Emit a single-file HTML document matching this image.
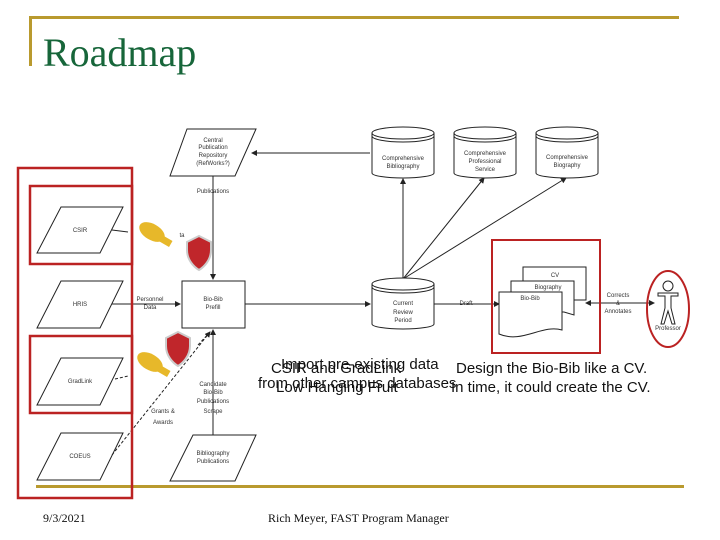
<!DOCTYPE html>
<html><head><meta charset="utf-8"><style>
html,body{margin:0;padding:0;background:#fff;}
svg{display:block}
</style></head><body>
<svg width="720" height="540" viewBox="0 0 720 540" xmlns="http://www.w3.org/2000/svg" font-family="Liberation Sans, sans-serif">
<defs>
<marker id="a" markerWidth="6" markerHeight="6" refX="5" refY="3" orient="auto"><path d="M0,0 L6,3 L0,6 z" fill="#222"/></marker>
</defs>
<!-- gold frame -->
<rect x="29" y="16" width="650" height="3" fill="#b99a2e"/>
<rect x="29" y="16" width="3" height="50" fill="#b99a2e"/>
<rect x="36" y="485" width="648" height="3" fill="#b99a2e"/>
<text x="43" y="66" font-family="Liberation Serif, serif" font-size="40" fill="#17663a">Roadmap</text>

<g stroke="#222" stroke-width="1" fill="#fff">
<!-- left parallelograms -->
<polygon points="61,207 123,207 100,253 37,253"/>
<polygon points="61,281 123,281 100,328 37,328"/>
<polygon points="61,358 123,358 100,405 37,405"/>
<polygon points="61,433 123,433 100,480 37,480"/>
<!-- central repo -->
<polygon points="187,129 256,129 235,176 170,176"/>
<!-- bibliography publications -->
<polygon points="193,435 256,435 235,481 170,481"/>
<!-- bio-bib prefill -->
<rect x="182" y="281" width="63" height="47"/>
</g>
<g stroke="#222" stroke-width="1" fill="none">
<line x1="213" y1="176" x2="213" y2="279" marker-end="url(#a)"/>
<line x1="213" y1="435" x2="213" y2="330" marker-end="url(#a)"/>
<line x1="112" y1="304" x2="180" y2="304" marker-end="url(#a)"/>
<line x1="245" y1="304" x2="370" y2="304" marker-end="url(#a)"/>
<line x1="433" y1="304" x2="499" y2="304" marker-end="url(#a)"/>
<line x1="433" y1="304" x2="437" y2="304"/>
<line x1="370" y1="153" x2="252" y2="153" marker-end="url(#a)"/>
<line x1="403" y1="279" x2="403" y2="179" marker-end="url(#a)"/>
<line x1="403" y1="279" x2="484" y2="178" marker-end="url(#a)"/>
<line x1="403" y1="279" x2="566" y2="178" marker-end="url(#a)"/>
<line x1="640" y1="303" x2="586" y2="303" marker-end="url(#a)"/>
<line x1="620" y1="303" x2="654" y2="303" marker-end="url(#a)"/>
<line x1="112" y1="230" x2="128" y2="232"/>
<line x1="115" y1="379" x2="128" y2="376" stroke-dasharray="3,2"/>
<line x1="112" y1="455" x2="210" y2="332" stroke-dasharray="3,2" marker-end="url(#a)"/>
<line x1="198" y1="345" x2="210" y2="332" stroke-dasharray="3,2"/>
</g>
<!-- cylinders -->
<g stroke="#222" stroke-width="1" fill="#fff">
<path d="M372,133 v40 a31,5 0 0 0 62,0 v-40"/><ellipse cx="403" cy="133" rx="31" ry="6"/><path d="M372,136 a31,6 0 0 0 62,0" fill="none"/>
<path d="M454,133 v40 a31,5 0 0 0 62,0 v-40"/><ellipse cx="485" cy="133" rx="31" ry="6"/><path d="M454,136 a31,6 0 0 0 62,0" fill="none"/>
<path d="M536,133 v40 a31,5 0 0 0 62,0 v-40"/><ellipse cx="567" cy="133" rx="31" ry="6"/><path d="M536,136 a31,6 0 0 0 62,0" fill="none"/>
<path d="M372,284 v40 a31,5 0 0 0 62,0 v-40"/><ellipse cx="403" cy="284" rx="31" ry="6"/><path d="M372,287 a31,6 0 0 0 62,0" fill="none"/>
<!-- documents -->
<path d="M523,267 h63 v33 h-63 z"/>
<path d="M511,281 h63 v34 l-10,-3 h-53 z"/>
<path d="M499,292 h63 v38 c-20,-6 -40,14 -63,4 z"/>
<!-- person -->
<circle cx="668" cy="286" r="5"/>
<path d="M658,293 h20 v3 h-7 v12 l4,16 h-3 l-4,-13 l-4,13 h-3 l4,-16 v-12 h-7 z" fill="#fff"/>
</g>
<!-- red highlights -->
<g stroke="#b22" stroke-width="2.5" fill="none">
<rect x="18" y="168" width="114" height="330"/>
<rect x="30" y="186" width="102" height="78"/>
<rect x="30" y="336" width="102" height="77"/>
<rect x="492" y="240" width="108" height="113" stroke-width="2"/>
<ellipse cx="668" cy="309" rx="21" ry="38" stroke-width="2"/>
</g>
<!-- keys and shields -->
<g>
<ellipse cx="152" cy="232" rx="14" ry="8" fill="#e7b82a" transform="rotate(30 152 232)"/>
<rect x="150" y="228" width="26" height="7" fill="#e7b82a" transform="rotate(30 150 228)"/>
<path d="M187,242 l12,-6 l12,6 v8 c0,10 -7,17 -12,20 c-5,-3 -12,-10 -12,-20 z" fill="#c0262b" stroke="#ccc" stroke-width="2"/>
<ellipse cx="150" cy="362" rx="14" ry="8" fill="#e7b82a" transform="rotate(30 150 362)"/>
<rect x="148" y="358" width="26" height="7" fill="#e7b82a" transform="rotate(30 148 358)"/>
<path d="M166,338 l12,-6 l12,6 v8 c0,10 -7,17 -12,20 c-5,-3 -12,-10 -12,-20 z" fill="#c0262b" stroke="#ccc" stroke-width="2"/>
</g>
<!-- small labels -->
<g font-size="6" fill="#333" text-anchor="middle">
<text x="80" y="232">CSIR</text>
<text x="80" y="306">HRIS</text>
<text x="80" y="383">GradLink</text>
<text x="80" y="458">COEUS</text>
<text x="213" y="142">Central</text><text x="213" y="149">Publication</text><text x="213" y="157">Repository</text><text x="213" y="165">(RefWorks?)</text>
<text x="213" y="193">Publications</text>
<text x="213" y="301">Bio-Bib</text><text x="213" y="309">Prefill</text>
<text x="150" y="301">Personnel</text><text x="150" y="309">Data</text>
<text x="213" y="386">Candidate</text><text x="213" y="394">Bio-Bib</text><text x="213" y="403">Publications</text><text x="213" y="413">Scrape</text>
<text x="163" y="413">Grants &amp;</text><text x="163" y="424">Awards</text>
<text x="213" y="455">Bibliography</text><text x="213" y="463">Publications</text>
<text x="403" y="160">Comprehensive</text><text x="403" y="168">Bibliography</text>
<text x="485" y="155">Comprehensive</text><text x="485" y="163">Professional</text><text x="485" y="171">Service</text>
<text x="567" y="159">Comprehensive</text><text x="567" y="167">Biography</text>
<text x="403" y="305">Current</text><text x="403" y="314">Review</text><text x="403" y="322">Period</text>
<text x="466" y="305">Draft</text>
<text x="555" y="277">CV</text>
<text x="548" y="289">Biography</text>
<text x="530" y="300">Bio-Bib</text>
<text x="618" y="297">Corrects</text><text x="618" y="305">&amp;</text><text x="618" y="313">Annotates</text>
<text x="668" y="330">Professor</text>
<text x="182" y="237">ta</text>
</g>
<!-- overlapping big labels -->
<g font-size="15" fill="#111">
<text x="281" y="369">Import pre-existing data</text>
<text x="271" y="373">CSIR and GradLink</text>
<text x="258" y="388">from other campus databases</text>
<text x="276" y="392">Low Hanging Fruit</text>
<text x="456" y="373">Design the Bio-Bib like a CV.</text>
<text x="451" y="392">In time, it could create the CV.</text>
</g>
<text x="43" y="522" font-family="Liberation Serif, serif" font-size="12" fill="#111">9/3/2021</text>
<text x="268" y="522" font-family="Liberation Serif, serif" font-size="12" fill="#111">Rich Meyer, FAST Program Manager</text>
</svg>
</body></html>
